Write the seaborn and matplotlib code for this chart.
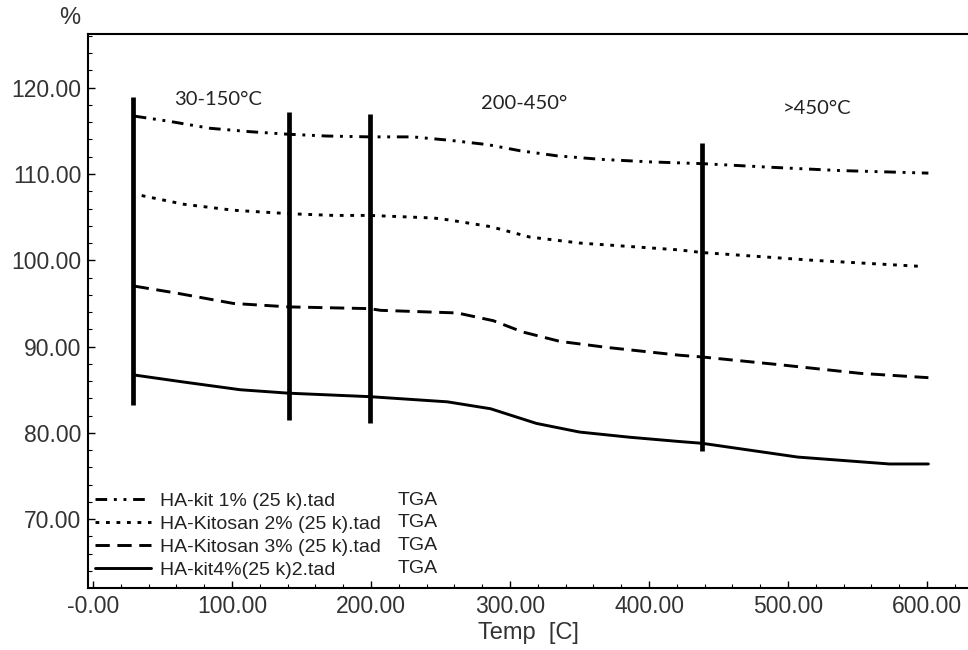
import matplotlib
matplotlib.use("Agg")
import matplotlib.pyplot as plt
import seaborn as sns
import numpy as np
from matplotlib.ticker import FixedLocator, MultipleLocator

sns.set_theme(style="white")
plt.rcParams['font.family'] = ['Liberation Sans', 'DejaVu Sans']

# ---- data ----
t_kit1 = [30, 55, 84, 113, 141, 168, 199, 230, 257, 284, 307, 334, 365, 401, 438, 485, 537, 601]
w_kit1 = [116.7, 116.1, 115.3, 114.9, 114.6, 114.4, 114.3, 114.3, 113.9, 113.4, 112.7, 112.1, 111.7, 111.4, 111.2, 110.8, 110.4, 110.1]

t_kit2 = [35, 65, 101, 141, 173, 199, 245, 255, 286, 314, 350, 422, 438, 518, 595]
w_kit2 = [107.5, 106.5, 105.8, 105.4, 105.2, 105.2, 104.9, 104.7, 103.9, 102.7, 102.0, 101.2, 100.9, 100.0, 99.3]

t_kit3 = [30, 60, 101, 141, 199, 207, 262, 288, 309, 336, 370, 422, 438, 494, 552, 601]
w_kit3 = [97.0, 96.2, 95.0, 94.6, 94.4, 94.2, 93.9, 93.0, 91.7, 90.6, 89.9, 89.0, 88.8, 87.9, 86.9, 86.4]

t_kit4 = [30, 65, 106, 141, 199, 255, 286, 319, 350, 386, 422, 438, 507, 573, 601]
w_kit4 = [86.7, 85.9, 85.0, 84.6, 84.2, 83.6, 82.8, 81.1, 80.1, 79.5, 79.0, 78.8, 77.2, 76.4, 76.4]

series_names = ["HA-kit 1% (25 k).tad", "HA-Kitosan 2% (25 k).tad",
                "HA-Kitosan 3% (25 k).tad", "HA-kit4%(25 k)2.tad"]
series_tag = ["TGA", "TGA", "TGA", "TGA"]

vline_x = [29, 141, 199, 438]
vline_lo = [83.2, 81.5, 81.2, 77.9]
vline_hi = [118.9, 117.2, 117.0, 113.6]

region_labels = ["30-150°C", "200-450°", ">450°C"]
region_x = [90, 310, 521]
region_y = [118.6, 118.2, 117.6]

xtick_vals = [0, 100, 200, 300, 400, 500, 600]
xtick_labels = ["-0.00", "100.00", "200.00", "300.00", "400.00", "500.00", "600.00"]
ytick_vals = [70, 80, 90, 100, 110, 120]
ytick_labels = ["70.00", "80.00", "90.00", "100.00", "110.00", "120.00"]

# ---- figure ----
fig = plt.figure(figsize=(9.68, 6.5), dpi=100)
ax = fig.add_axes([88.3 / 968, 1 - 588 / 650, 1 - 88.3 / 968, (588 - 34) / 650])

styles = [(0, (4, 2.3, 1, 2.3, 1, 2.3)), (0, (1.3, 2.3)), (0, (4.9, 2.6)), '-']
all_t = [t_kit1, t_kit2, t_kit3, t_kit4]
all_w = [w_kit1, w_kit2, w_kit3, w_kit4]
for t, w, name, ls in zip(all_t, all_w, series_names, styles):
    sns.lineplot(x=t, y=w, ax=ax, color='black', lw=2.1, linestyle=ls, label=name)

ax.vlines(vline_x, vline_lo, vline_hi, colors='black', lw=3.4)

for lab, x, y in zip(region_labels, region_x, region_y):
    ax.text(x, y, lab, ha='center', va='center', fontsize=14.5, color='#222',
            family=['Lato', 'DejaVu Sans'])

ax.set_xlim(-3.4, 629.5)
ax.set_ylim(62.03, 126.22)

ax.xaxis.set_major_locator(FixedLocator(xtick_vals))
ax.set_xticklabels(xtick_labels)
ax.yaxis.set_major_locator(FixedLocator(ytick_vals))
ax.set_yticklabels(ytick_labels)
ax.xaxis.set_minor_locator(MultipleLocator(20))
ax.yaxis.set_minor_locator(MultipleLocator(2))
ax.tick_params(which='both', direction='in', color='black', labelcolor='#333',
               bottom=True, left=True, top=False, right=False)
ax.tick_params(which='major', length=5, width=1, labelsize=16.5, pad=5)
ax.tick_params(which='minor', length=3, width=0.8)

for side in ['top', 'left', 'bottom']:
    ax.spines[side].set_visible(True)
    ax.spines[side].set_color('black')
    ax.spines[side].set_linewidth(1.5)
ax.spines['right'].set_visible(False)

ax.set_xlabel("Temp  [C]", fontsize=17, color='#333', labelpad=3)
ax.set_ylabel("")
fig.text(70 / 968, 1 - 18 / 650, "%", fontsize=17, color='#333', ha='center', va='center')

handles, labels = ax.get_legend_handles_labels()
leg = ax.legend(handles, labels, loc='lower left', bbox_to_anchor=(0.0076, 0.0166),
                frameon=False, fontsize=14, handlelength=2.9, handletextpad=0.45,
                labelspacing=0.28, borderpad=0, borderaxespad=0)
for txt in leg.get_texts():
    txt.set_color('#222')

tga_y = [0.1588, 0.1179, 0.0764, 0.0361]
for tag, yy in zip(series_tag, tga_y):
    ax.text(0.352, yy, tag, transform=ax.transAxes, ha='left', va='center',
            fontsize=14, color='#222')

fig.savefig("out.png", dpi=100)
